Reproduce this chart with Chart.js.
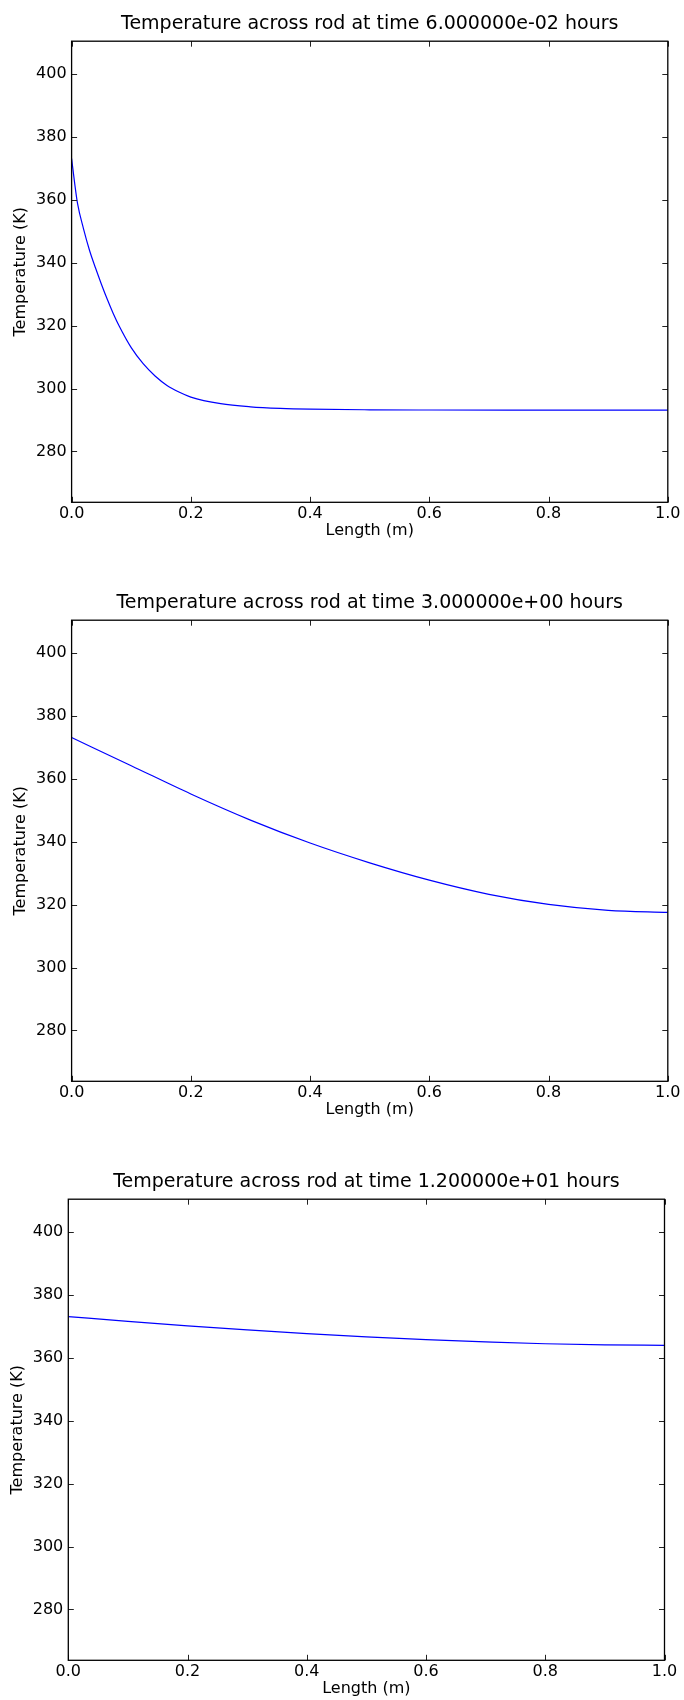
<!DOCTYPE html>
<html>
<head>
<meta charset="utf-8">
<script src="https://cdn.jsdelivr.net/npm/chart.js@4.4.1/dist/chart.umd.min.js"></script>
<style>
  html, body { margin: 0; padding: 0; background: #fff; overflow: hidden; }
  body { width: 684px; height: 1700px; position: relative; }
  canvas { position: absolute; left: 0; }
</style>
</head>
<body>
<canvas id="rod1" width="684" height="542" style="top:0px"></canvas>
<canvas id="rod2" width="684" height="542" style="top:579px"></canvas>
<canvas id="rod3" width="684" height="542" style="top:1158px"></canvas>
<script>
// Values
const lengthEarly = [0, 0.005, 0.01, 0.02, 0.03, 0.04, 0.05, 0.06, 0.07, 0.08, 0.10, 0.12, 0.14, 0.16, 0.18, 0.20, 0.25, 0.30, 0.35, 0.40, 0.50, 0.60, 0.80, 1.00];
const tempEarly = [373.15, 365.5, 358.8, 350.8, 344.0, 338.4, 333.2, 328.3, 323.8, 319.8, 313.0, 307.9, 304.0, 301.0, 298.9, 297.3, 295.2, 294.2, 293.7, 293.45, 293.25, 293.18, 293.15, 293.15];

const lengthGrid = [0, 0.1, 0.2, 0.3, 0.4, 0.5, 0.6, 0.7, 0.8, 0.9, 1.0];
const tempMid = [373.15, 364.2, 355.2, 346.9, 339.6, 333.3, 327.8, 323.3, 320.1, 318.2, 317.55];
const tempLate = [373.15, 371.6, 370.2, 368.9, 367.7, 366.7, 365.8, 365.1, 364.5, 364.15, 364.0];

const titles = [
  "Temperature across rod at time 6.000000e-02 hours",
  "Temperature across rod at time 3.000000e+00 hours",
  "Temperature across rod at time 1.200000e+01 hours",
];
const xTickValues = [0, 0.2, 0.4, 0.6, 0.8, 1.0];
const yTickValues = [280, 300, 320, 340, 360, 380, 400];
const yLimits = [263.835, 410.465];

Chart.defaults.font.family = "'DejaVu Sans', sans-serif";
Chart.defaults.color = "#000";

// frame + inward tick marks on all four sides
const frameTicks = {
  id: "frameTicks",
  afterDraw(chart) {
    const { ctx, chartArea: a, scales: { x, y } } = chart;
    const len = 5.5;
    ctx.save();
    ctx.strokeStyle = "#222";
    ctx.lineWidth = 1;
    ctx.beginPath();
    x.ticks.forEach((t) => {
      const px = Math.round(x.getPixelForValue(t.value)) + 0.5;
      ctx.moveTo(px, a.bottom); ctx.lineTo(px, a.bottom - len);
      ctx.moveTo(px, a.top); ctx.lineTo(px, a.top + len);
    });
    y.ticks.forEach((t) => {
      const py = Math.round(y.getPixelForValue(t.value)) + 0.5;
      ctx.moveTo(a.left, py); ctx.lineTo(a.left + len, py);
      ctx.moveTo(a.right, py); ctx.lineTo(a.right - len, py);
    });
    ctx.stroke();
    ctx.strokeStyle = "#000";
    ctx.lineWidth = 1.3;
    ctx.strokeRect(a.left, a.top, a.right - a.left, a.bottom - a.top);
    ctx.restore();
  },
};

const makeChart = (id, title, xs, ys, leftEdge) => {
  const ctx = document.getElementById(id).getContext("2d");
  return new Chart(ctx, {
    type: "line",
    data: {
      datasets: [{
        data: xs.map((v, i) => ({ x: v, y: ys[i] })),
        borderColor: "#0000ff",
        borderWidth: 1.2,
        pointRadius: 0,
        cubicInterpolationMode: "monotone",
        fill: false,
      }],
    },
    options: {
      responsive: false,
      animation: false,
      layout: { padding: { top: 0, left: 0, right: 684 - (leftEdge + 596.2), bottom: 1.7 } },
      plugins: {
        legend: { display: false },
        tooltip: { enabled: false },
        title: {
          display: true,
          text: title,
          fullSize: false,
          color: "#000",
          font: { size: 19, weight: "normal" },
          padding: { top: 12.4, bottom: 6 },
        },
      },
      scales: {
        x: {
          type: "linear",
          min: 0,
          max: 1,
          grid: { display: false, drawTicks: false },
          border: { display: false },
          afterBuildTicks: (s) => { s.ticks = xTickValues.map((v) => ({ value: v })); },
          afterFit: (s) => { s.height = 38; },
          ticks: {
            padding: 2,
            maxRotation: 0,
            font: { size: 16 },
            callback: (v) => Number(v).toFixed(1),
          },
          title: {
            display: true,
            text: "Length (m)",
            font: { size: 16 },
            padding: { top: 0, bottom: 0 },
          },
        },
        y: {
          min: yLimits[0],
          max: yLimits[1],
          grid: { display: false, drawTicks: false },
          border: { display: false },
          afterBuildTicks: (s) => { s.ticks = yTickValues.map((v) => ({ value: v })); },
          afterFit: (s) => { s.width = leftEdge; },
          ticks: {
            padding: 5,
            font: { size: 16 },
            callback: (v) => String(v),
          },
          title: {
            display: true,
            text: "Temperature (K)",
            font: { size: 16 },
            padding: { top: 11.4 - (71.6 - leftEdge), bottom: 0 },
          },
        },
      },
    },
    plugins: [frameTicks],
  });
};

makeChart("rod1", titles[0], lengthEarly, tempEarly, 71.6);
makeChart("rod2", titles[1], lengthGrid, tempMid, 71.6);
makeChart("rod3", titles[2], lengthGrid, tempLate, 68.3);
</script>
</body>
</html>
